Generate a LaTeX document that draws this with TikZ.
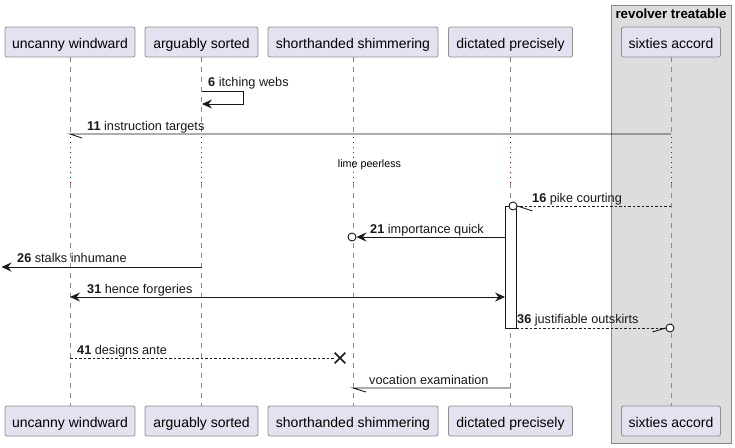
\documentclass[tikz,border=0pt]{standalone}
\usepackage{fontspec}
\setmainfont{Liberation Sans}
\usetikzlibrary{arrows.meta,shapes.misc}
\definecolor{pfill}{HTML}{E2E2F0}
\definecolor{pdraw}{HTML}{8F8F8F}
\definecolor{gfill}{HTML}{DDDDDD}
\definecolor{gdraw}{HTML}{888888}
\definecolor{lifec}{HTML}{8A8A8A}
\definecolor{delayc}{HTML}{A80036}
\definecolor{ink}{HTML}{181818}
\begin{document}
\begin{tikzpicture}[x=1pt,y=-1pt,
 pbox/.style={draw=pdraw,fill=pfill,rounded corners=2pt,minimum height=30pt,inner sep=0pt,
   text height=12pt,text depth=0pt,font=\fontsize{14}{16}\selectfont,line width=0.8pt},
 lifeline/.style={draw=lifec,dash pattern=on 5pt off 5pt,line width=0.8pt},
 delayline/.style={draw=delayc,dash pattern=on 1pt off 4pt,line width=0.8pt},
 msg/.style={draw=ink,line width=0.9pt},
 ret/.style={msg,dash pattern=on 2.5pt off 2pt},
 head/.style={-{Stealth[length=10pt,width=9pt,inset=3.5pt]}},
 both/.style={{Stealth[length=10pt,width=9pt,inset=3.5pt]}-{Stealth[length=10pt,width=9pt,inset=3.5pt]}},
 lbl/.style={anchor=base west,inner sep=0pt,font=\fontsize{12.7}{15}\selectfont,text=ink},
 ring/.style={circle,draw=ink,fill=white,line width=0.9pt,minimum size=8pt,inner sep=0pt},
]
\useasboundingbox (0,0) rectangle (735,447);
% group
\node[draw=gdraw,fill=gfill,line width=0.8pt,minimum width=120pt,minimum height=438pt,anchor=north west,inner sep=0pt] (grp) at (611,5) {};
\node[anchor=base,inner sep=0pt,font=\bfseries\fontsize{13.3}{15}\selectfont] (grpt) at (671,18) {revolver treatable};
% participants
\node[pbox,minimum width=130pt] (uw) at (70,42) {uncanny windward};
\node[pbox,minimum width=113pt] (as) at (201.5,42) {arguably sorted};
\node[pbox,minimum width=170pt] (ss) at (353,42) {shorthanded shimmering};
\node[pbox,minimum width=124pt] (dp) at (510.5,42) {dictated precisely};
\node[pbox,minimum width=99pt] (sa) at (671,42) {sixties accord};
\node[pbox,minimum width=130pt] (uwb) at (70,421) {uncanny windward};
\node[pbox,minimum width=113pt] (asb) at (201.5,421) {arguably sorted};
\node[pbox,minimum width=170pt] (ssb) at (353,421) {shorthanded shimmering};
\node[pbox,minimum width=124pt] (dpb) at (510.5,421) {dictated precisely};
\node[pbox,minimum width=99pt] (sab) at (671,421) {sixties accord};
% delay levels
\coordinate (d1) at (0,137);
\coordinate (d2) at (0,183);
\foreach \p in {uw,as,ss,dp,sa}{
  \draw[lifeline] (\p.south) -- (\p.south |- d1);
  \draw[delayline] (\p.south |- d1) -- (\p.south |- d2);
  \draw[lifeline] (\p.south |- d2) -- (\p b.north);
}
\node[anchor=base,inner sep=0pt,font=\fontsize{10.7}{12}\selectfont] (dly) at (369.5,167) {lime peerless};
% activation
\node[draw=ink,fill=white,line width=0.9pt,minimum width=11pt,minimum height=122pt,anchor=north,inner sep=0pt] (act) at (510.5,206) {};
% 6 self
\coordinate (m6a) at (201.5,91);
\coordinate (m6b) at (243,91);
\coordinate (m6c) at (243,104);
\coordinate (m6d) at (202,104);
\draw[msg,head] (m6a) -- (m6b) -- (m6c) -- (m6d);
\node[lbl] (l6) at (208,86) {\textbf{6} itching webs};
% 11
\coordinate (m11a) at (671,134);
\coordinate (m11b) at (70,134);
\draw[msg] (m11a) -- (m11b) -- ++(12,4);
\node[lbl] (l11) at (87,130) {\textbf{11} instruction targets};
% 16
\coordinate (m16a) at (671,206);
\node[ring] (c16) at (513,206) {};
\draw[ret] (m16a) -- (c16.east);
\draw[msg] (c16.east) -- ++(15,5);
\node[lbl] (l16) at (532,202) {\textbf{16} pike courting};
% 21
\coordinate (m21a) at (505,237);
\node[ring] (c21) at (352,237) {};
\draw[msg,head] (m21a) -- (c21.east);
\node[lbl] (l21) at (370,233) {\textbf{21} importance quick};
% 26
\coordinate (m26a) at (201.5,267);
\coordinate (m26b) at (1.5,267);
\draw[msg,head] (m26a) -- (m26b);
\node[lbl] (l26) at (17,262.5) {\textbf{26} stalks inhumane};
% 31
\coordinate (m31a) at (70,297);
\coordinate (m31b) at (505,297);
\draw[msg,both] (m31a) -- (m31b);
\node[lbl] (l31) at (87,293) {\textbf{31} hence forgeries};
% 36
\coordinate (m36a) at (516,328);
\node[ring] (c36) at (670,328) {};
\draw[ret] (m36a) -- (c36.west);
\draw[msg] (c36.west) -- ++(-13,4);
\node[lbl] (l36) at (517,323) {\textbf{36} justifiable outskirts};
% 41
\coordinate (m41a) at (70,358);
\node[cross out,draw=ink,line width=1.6pt,minimum size=9pt,inner sep=0pt] (x41) at (340,358) {};
\draw[ret] (m41a) -- (x41.west);
\node[lbl] (l41) at (77,354) {\textbf{41} designs ante};
% vocation
\coordinate (mva) at (510.5,388);
\coordinate (mvb) at (353,388);
\draw[msg] (mva) -- (mvb) -- ++(13,4);
\node[lbl] (lv) at (369,384) {vocation examination};
\end{tikzpicture}
\end{document}
